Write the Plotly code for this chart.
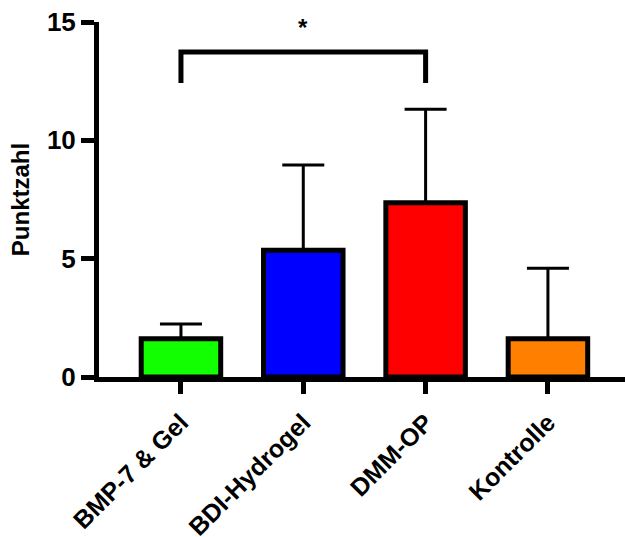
import plotly.graph_objects as go

categories = ["BMP-7 & Gel", "BDI-Hydrogel", "DMM-OP", "Kontrolle"]
means = [1.62, 5.36, 7.36, 1.62]
errors_up = [0.62, 3.60, 3.95, 2.97]
colors = ["#11FF00", "#0000FF", "#FF0000", "#FF8000"]
y_ticks = [0, 5, 10, 15]
bracket_groups = [0, 2]
bracket_top = 13.73
bracket_leg = 12.42
star_label = "*"
y_title = "Punktzahl"

positions = list(range(len(categories)))
FONT = "Liberation Sans, Arial, sans-serif"

fig = go.Figure()
fig.add_trace(go.Bar(
    x=positions, y=means, width=0.65,
    marker=dict(color=colors, line=dict(color="black", width=5)),
    error_y=dict(type="data", symmetric=False, array=errors_up,
                 arrayminus=[0] * len(means), color="black", thickness=3, width=21),
    showlegend=False,
))
a, b = bracket_groups
fig.add_trace(go.Scatter(
    x=[a, a, b, b], y=[bracket_leg, bracket_top, bracket_top, bracket_leg],
    mode="lines", line=dict(color="black", width=5), showlegend=False,
    hoverinfo="skip",
))
fig.add_annotation(x=(a + b) / 2, y=bracket_top, yshift=9, text=star_label,
                   showarrow=False, yanchor="bottom",
                   font=dict(family=FONT, size=24, color="black", weight="bold"))

fig.update_layout(
    width=625, height=537,
    margin=dict(l=99, r=0, t=22, b=160),
    plot_bgcolor="white", paper_bgcolor="white",
    font=dict(family=FONT, color="black", weight="bold"),
    xaxis=dict(range=[-0.67, 3.63], tickvals=positions, ticktext=categories,
               tickangle=-45, ticks="outside", ticklen=12, tickwidth=5,
               tickcolor="black", showline=True, linecolor="black", linewidth=5,
               showgrid=False, zeroline=False, ticklabelstandoff=4,
               automargin=False,
               tickfont=dict(family=FONT, size=25, color="black", weight="bold")),
    yaxis=dict(range=[0, 15], tickvals=y_ticks, ticks="outside", ticklen=13,
               tickwidth=5, tickcolor="black", showline=True, linecolor="black",
               linewidth=5, showgrid=False, zeroline=False, automargin=False,
               tickfont=dict(family=FONT, size=26, color="black", weight="bold"),
               title=dict(text=y_title, standoff=12,
                          font=dict(family=FONT, size=24, color="black", weight="bold"))),
)
fig.write_html("out.html")
